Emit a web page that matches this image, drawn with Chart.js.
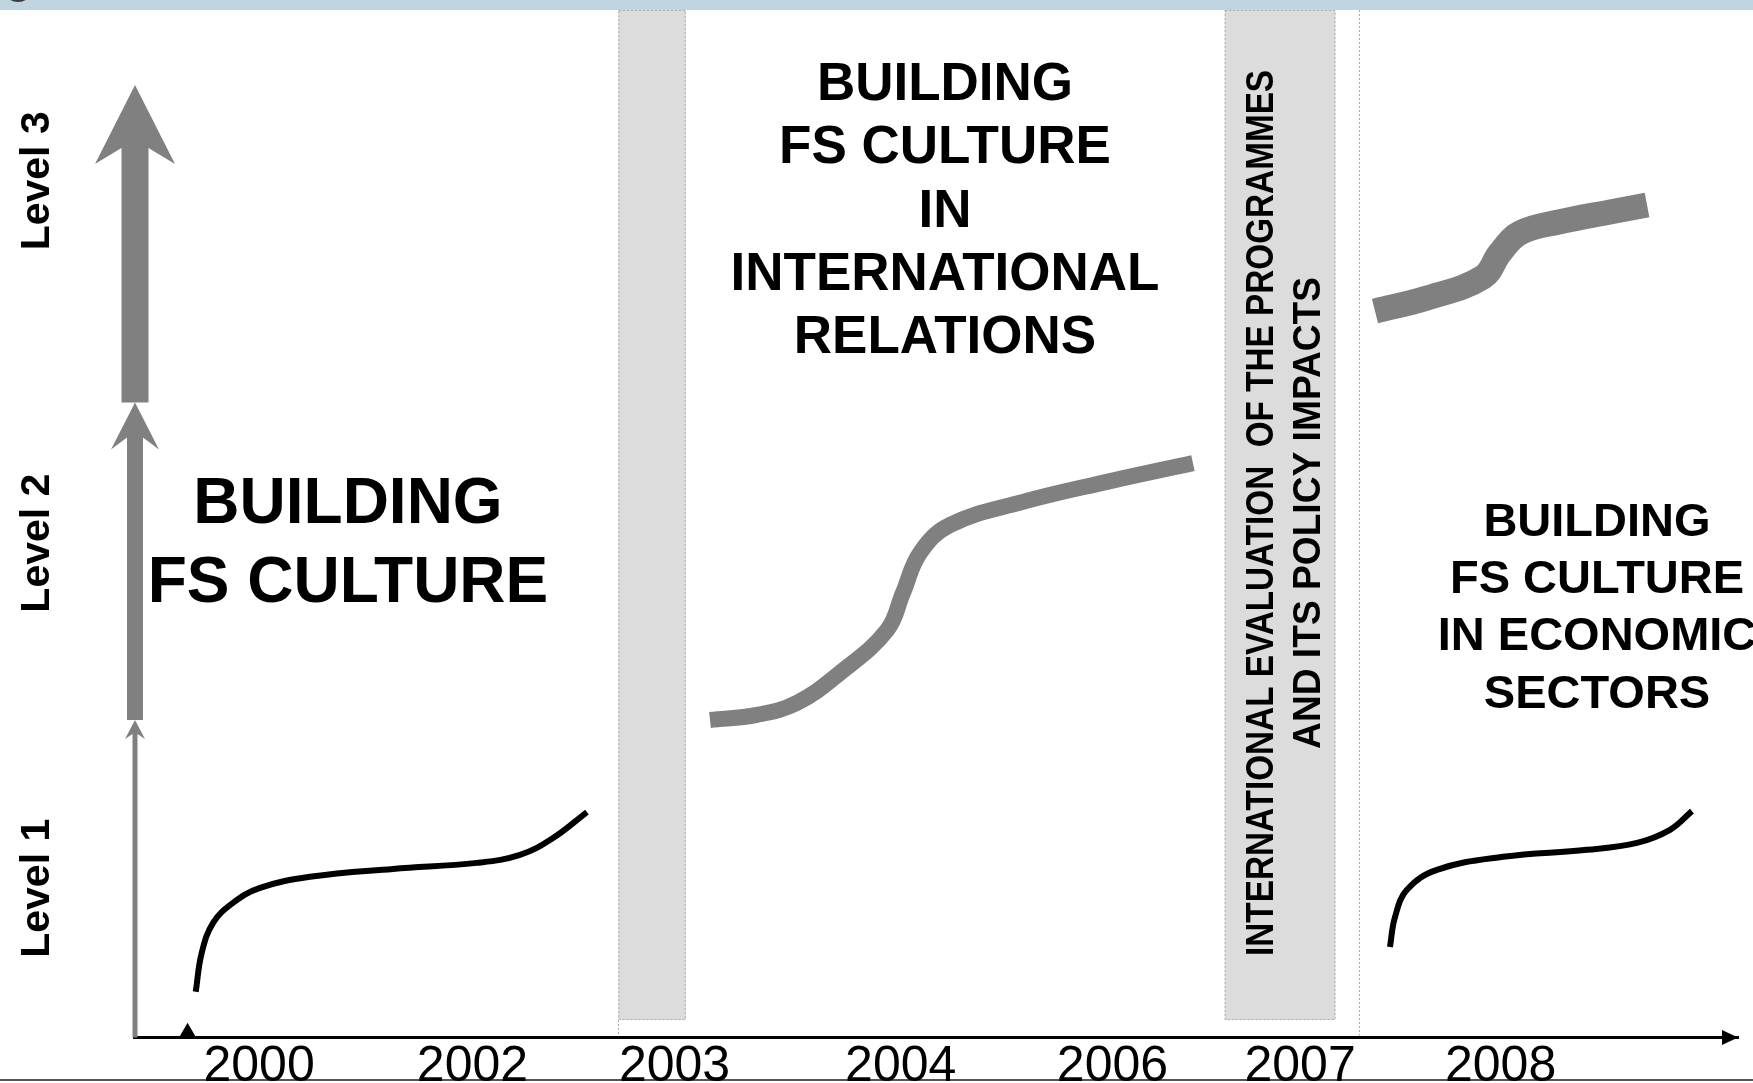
<!DOCTYPE html>
<html>
<head>
<meta charset="utf-8">
<title>Building FS culture</title>
<script src="https://cdn.jsdelivr.net/npm/chart.js@4.4.0/dist/chart.umd.min.js"></script>
<style>
  html, body { margin: 0; padding: 0; background: #fff; }
  canvas { display: block; }
</style>
</head>
<body>
<canvas id="graph1" width="1753" height="1083"></canvas>
<script>
// x = position along the time axis (0 = axis start, 100 = arrow tip), y = level (1, 2, 3)
var yearLabels = ['2000', '2002', '2003', '2004', '2006', '2007', '2008'];
var yearPos = [7.8, 21.1, 33.7, 47.8, 61.0, 72.7, 85.2];

var levelNames = ['Level 1', 'Level 2', 'Level 3'];
var levelNamePos = [0.47, 1.557, 2.698];
var levelFrom = [0, 1, 2];
var levelTo = [1, 2, 3];

// level 1 curve, first phase
var phase1X = [3.85, 4.22, 4.93, 6.17, 7.86, 10.97, 16.15, 21.38, 24.06, 26.12, 28.24];
var phase1Y = [0.144, 0.266, 0.361, 0.424, 0.471, 0.506, 0.531, 0.550, 0.575, 0.628, 0.710];
// level 2 curve, international relations
var phase2X = [35.91, 38.84, 41.33, 44.01, 46.95, 47.94, 49.00, 50.87, 55.42, 60.66, 66.02];
var phase2Y = [1.000, 1.016, 1.054, 1.148, 1.283, 1.400, 1.526, 1.614, 1.687, 1.750, 1.809];
// level 3 curve after evaluation
var phase3X = [77.37, 80.61, 84.10, 85.16, 86.41, 88.90, 92.02, 94.33];
var phase3Y = [2.288, 2.329, 2.395, 2.471, 2.534, 2.569, 2.600, 2.622];
// level 1 curve, economic sectors
var phase4X = [78.30, 78.62, 79.36, 81.23, 85.35, 90.59, 93.70, 95.76, 97.13];
var phase4Y = [0.285, 0.380, 0.465, 0.528, 0.569, 0.591, 0.613, 0.654, 0.713];

// start marker on the axis
var startMark = { x: 3.34, y: 0.015 };

// shaded periods (2003 and 2007) and the dotted divider
var bandFrom = [30.2, 68.0];
var bandTo = [34.4, 74.9];
var bandBottom = 0.055;
var dividerPos = 76.4;

var leftText = ['BUILDING', 'FS CULTURE'];
var leftTextX = 13.34;
var leftTextY = [1.691, 1.444];

var midText = ['BUILDING', 'FS CULTURE', 'IN', 'INTERNATIONAL', 'RELATIONS'];
var midTextX = 50.56;
var midTextY = [3.013, 2.814, 2.613, 2.414, 2.216];

var rightText = ['BUILDING', 'FS CULTURE', 'IN ECONOMIC', 'SECTORS'];
var rightTextX = 91.21;
var rightTextY = [1.633, 1.454, 1.274, 1.090];

var evalText = ['INTERNATIONAL EVALUATION  OF THE PROGRAMMES', 'AND ITS POLICY IMPACTS'];
var evalTextX = [70.14, 73.07];
var evalTextY = 1.652;

function points(xs, ys) {
    return xs.map(function (x, i) { return { x: x, y: ys[i] }; });
}

function curve(xs, ys, color, width) {
    return {
        data: points(xs, ys),
        borderColor: color,
        borderWidth: width,
        borderCapStyle: 'butt',
        borderJoinStyle: 'round',
        pointRadius: 0,
        tension: 0.4,
        fill: false
    };
}

var SANS = "'Liberation Sans', Arial, sans-serif";

function centeredText(ctx, text, x, y, size, maxW) {
    ctx.font = 'bold ' + size + 'px ' + SANS;
    ctx.textAlign = 'center';
    ctx.textBaseline = 'alphabetic';
    if (maxW) ctx.fillText(text, x, y + size * 0.358, maxW);
    else ctx.fillText(text, x, y + size * 0.358);
}

function verticalText(ctx, text, x, y, size, maxW) {
    ctx.save();
    ctx.translate(x, y);
    ctx.rotate(-Math.PI / 2);
    centeredText(ctx, text, 0, 0, size, maxW);
    ctx.restore();
}

function arrow(ctx, x, bottom, tip, shaftW, halfHead, headLen, neck) {
    ctx.beginPath();
    ctx.moveTo(x, tip);
    ctx.lineTo(x + halfHead, tip + headLen);
    ctx.lineTo(x + shaftW / 2, tip + neck);
    ctx.lineTo(x + shaftW / 2, bottom);
    ctx.lineTo(x - shaftW / 2, bottom);
    ctx.lineTo(x - shaftW / 2, tip + neck);
    ctx.lineTo(x - halfHead, tip + headLen);
    ctx.closePath();
    ctx.fill();
}

var diagram = {
    id: 'diagram',
    beforeDraw: function (chart) {
        var ctx = chart.ctx;
        ctx.save();
        ctx.fillStyle = '#fff';
        ctx.fillRect(0, 0, chart.width, chart.height);
        ctx.fillStyle = '#c1d5e0';
        ctx.fillRect(0, 0, chart.width, 10);
        ctx.fillStyle = '#3a3a3a';
        ctx.beginPath();
        ctx.ellipse(18, -5, 11, 7, 0, 0, Math.PI * 2);
        ctx.fill();
        ctx.fillStyle = '#555';
        ctx.fillRect(0, 1079, chart.width, 2);
        ctx.restore();
    },
    beforeDatasetsDraw: function (chart) {
        var ctx = chart.ctx;
        var xs = chart.scales.x, ys = chart.scales.y;
        var area = chart.chartArea;
        ctx.save();
        // shaded periods
        for (var i = 0; i < bandFrom.length; i++) {
            var x0 = xs.getPixelForValue(bandFrom[i]);
            var x1 = xs.getPixelForValue(bandTo[i]);
            var yb = ys.getPixelForValue(bandBottom);
            ctx.fillStyle = '#dcdcdc';
            ctx.fillRect(x0, area.top, x1 - x0, yb - area.top);
            ctx.strokeStyle = '#a8a8a8';
            ctx.lineWidth = 1;
            ctx.setLineDash([2, 2]);
            ctx.strokeRect(x0 + 0.5, area.top + 0.5, x1 - x0 - 1, yb - area.top - 1);
        }
        // dotted continuation to the axis and divider line
        ctx.beginPath();
        var xb = Math.round(xs.getPixelForValue(bandFrom[0])) + 0.5;
        ctx.moveTo(xb, ys.getPixelForValue(bandBottom));
        ctx.lineTo(xb, area.bottom - 2);
        var xd = Math.round(xs.getPixelForValue(dividerPos)) + 0.5;
        ctx.moveTo(xd, area.top);
        ctx.lineTo(xd, area.bottom - 2);
        ctx.stroke();
        ctx.setLineDash([]);

        // level arrows on the left
        ctx.fillStyle = '#808080';
        var ax = area.left + 1;
        var shaft = [5, 16, 27], half = [10, 24, 40], head = [19, 47, 79], neck = [14, 35, 63];
        for (var k = 0; k < levelTo.length; k++) {
            arrow(ctx, ax, ys.getPixelForValue(levelFrom[k]), ys.getPixelForValue(levelTo[k]),
                shaft[k], half[k], head[k], neck[k]);
        }

        // arrow head of the time axis
        ctx.fillStyle = '#000';
        ctx.beginPath();
        ctx.moveTo(area.right, area.bottom);
        ctx.lineTo(area.right - 16, area.bottom - 7.5);
        ctx.lineTo(area.right - 16, area.bottom + 7.5);
        ctx.closePath();
        ctx.fill();
        ctx.restore();
    },
    afterDatasetsDraw: function (chart) {
        var ctx = chart.ctx;
        var xs = chart.scales.x, ys = chart.scales.y;
        var area = chart.chartArea;
        ctx.save();
        ctx.fillStyle = '#000';
        var i;
        for (i = 0; i < leftText.length; i++) {
            centeredText(ctx, leftText[i], xs.getPixelForValue(leftTextX), ys.getPixelForValue(leftTextY[i]), 64);
        }
        for (i = 0; i < midText.length; i++) {
            centeredText(ctx, midText[i], xs.getPixelForValue(midTextX), ys.getPixelForValue(midTextY[i]), 53);
        }
        for (i = 0; i < rightText.length; i++) {
            centeredText(ctx, rightText[i], xs.getPixelForValue(rightTextX), ys.getPixelForValue(rightTextY[i]), 47);
        }
        var evalW = [886, 472];
        for (i = 0; i < evalText.length; i++) {
            verticalText(ctx, evalText[i], xs.getPixelForValue(evalTextX[i]), ys.getPixelForValue(evalTextY), 39, evalW[i]);
        }
        for (i = 0; i < levelNames.length; i++) {
            verticalText(ctx, levelNames[i], area.left - 100, ys.getPixelForValue(levelNamePos[i]), 41);
        }
        ctx.restore();
    }
};

var ctx = document.getElementById('graph1').getContext('2d');

var data = {
    datasets: [
        curve(phase1X, phase1Y, '#000', 6),
        curve(phase2X, phase2Y, '#808080', 16),
        curve(phase3X, phase3Y, '#808080', 25),
        curve(phase4X, phase4Y, '#000', 6),
        {
            data: [startMark],
            showLine: false,
            pointStyle: 'triangle',
            pointRadius: 10,
            backgroundColor: '#000',
            borderWidth: 0
        }
    ]
};

var config = {
    type: 'line',
    data: data,
    options: {
        responsive: false,
        devicePixelRatio: 1,
        animation: false,
        layout: { padding: { left: 134, right: 15, top: 10, bottom: 0 } },
        plugins: { legend: { display: false }, tooltip: { enabled: false } },
        scales: {
            x: {
                type: 'linear',
                min: 0,
                max: 100,
                grid: { display: false, drawTicks: false },
                border: { display: true, color: '#000', width: 3 },
                afterBuildTicks: function (axis) {
                    axis.ticks = yearPos.map(function (v) { return { value: v }; });
                },
                afterFit: function (scale) { scale.height = 45.5; },
                ticks: {
                    autoSkip: false,
                    maxRotation: 0,
                    minRotation: 0,
                    padding: 0,
                    color: '#000',
                    font: { family: "'Liberation Sans Narrow', 'Arial Narrow', 'Liberation Sans', sans-serif", size: 50 },
                    callback: function (value, index) { return yearLabels[index]; }
                }
            },
            y: {
                type: 'linear',
                min: 0,
                max: 3.236,
                display: false
            }
        }
    },
    plugins: [diagram]
};

var graph1 = new Chart(ctx, config);
</script>
</body>
</html>
